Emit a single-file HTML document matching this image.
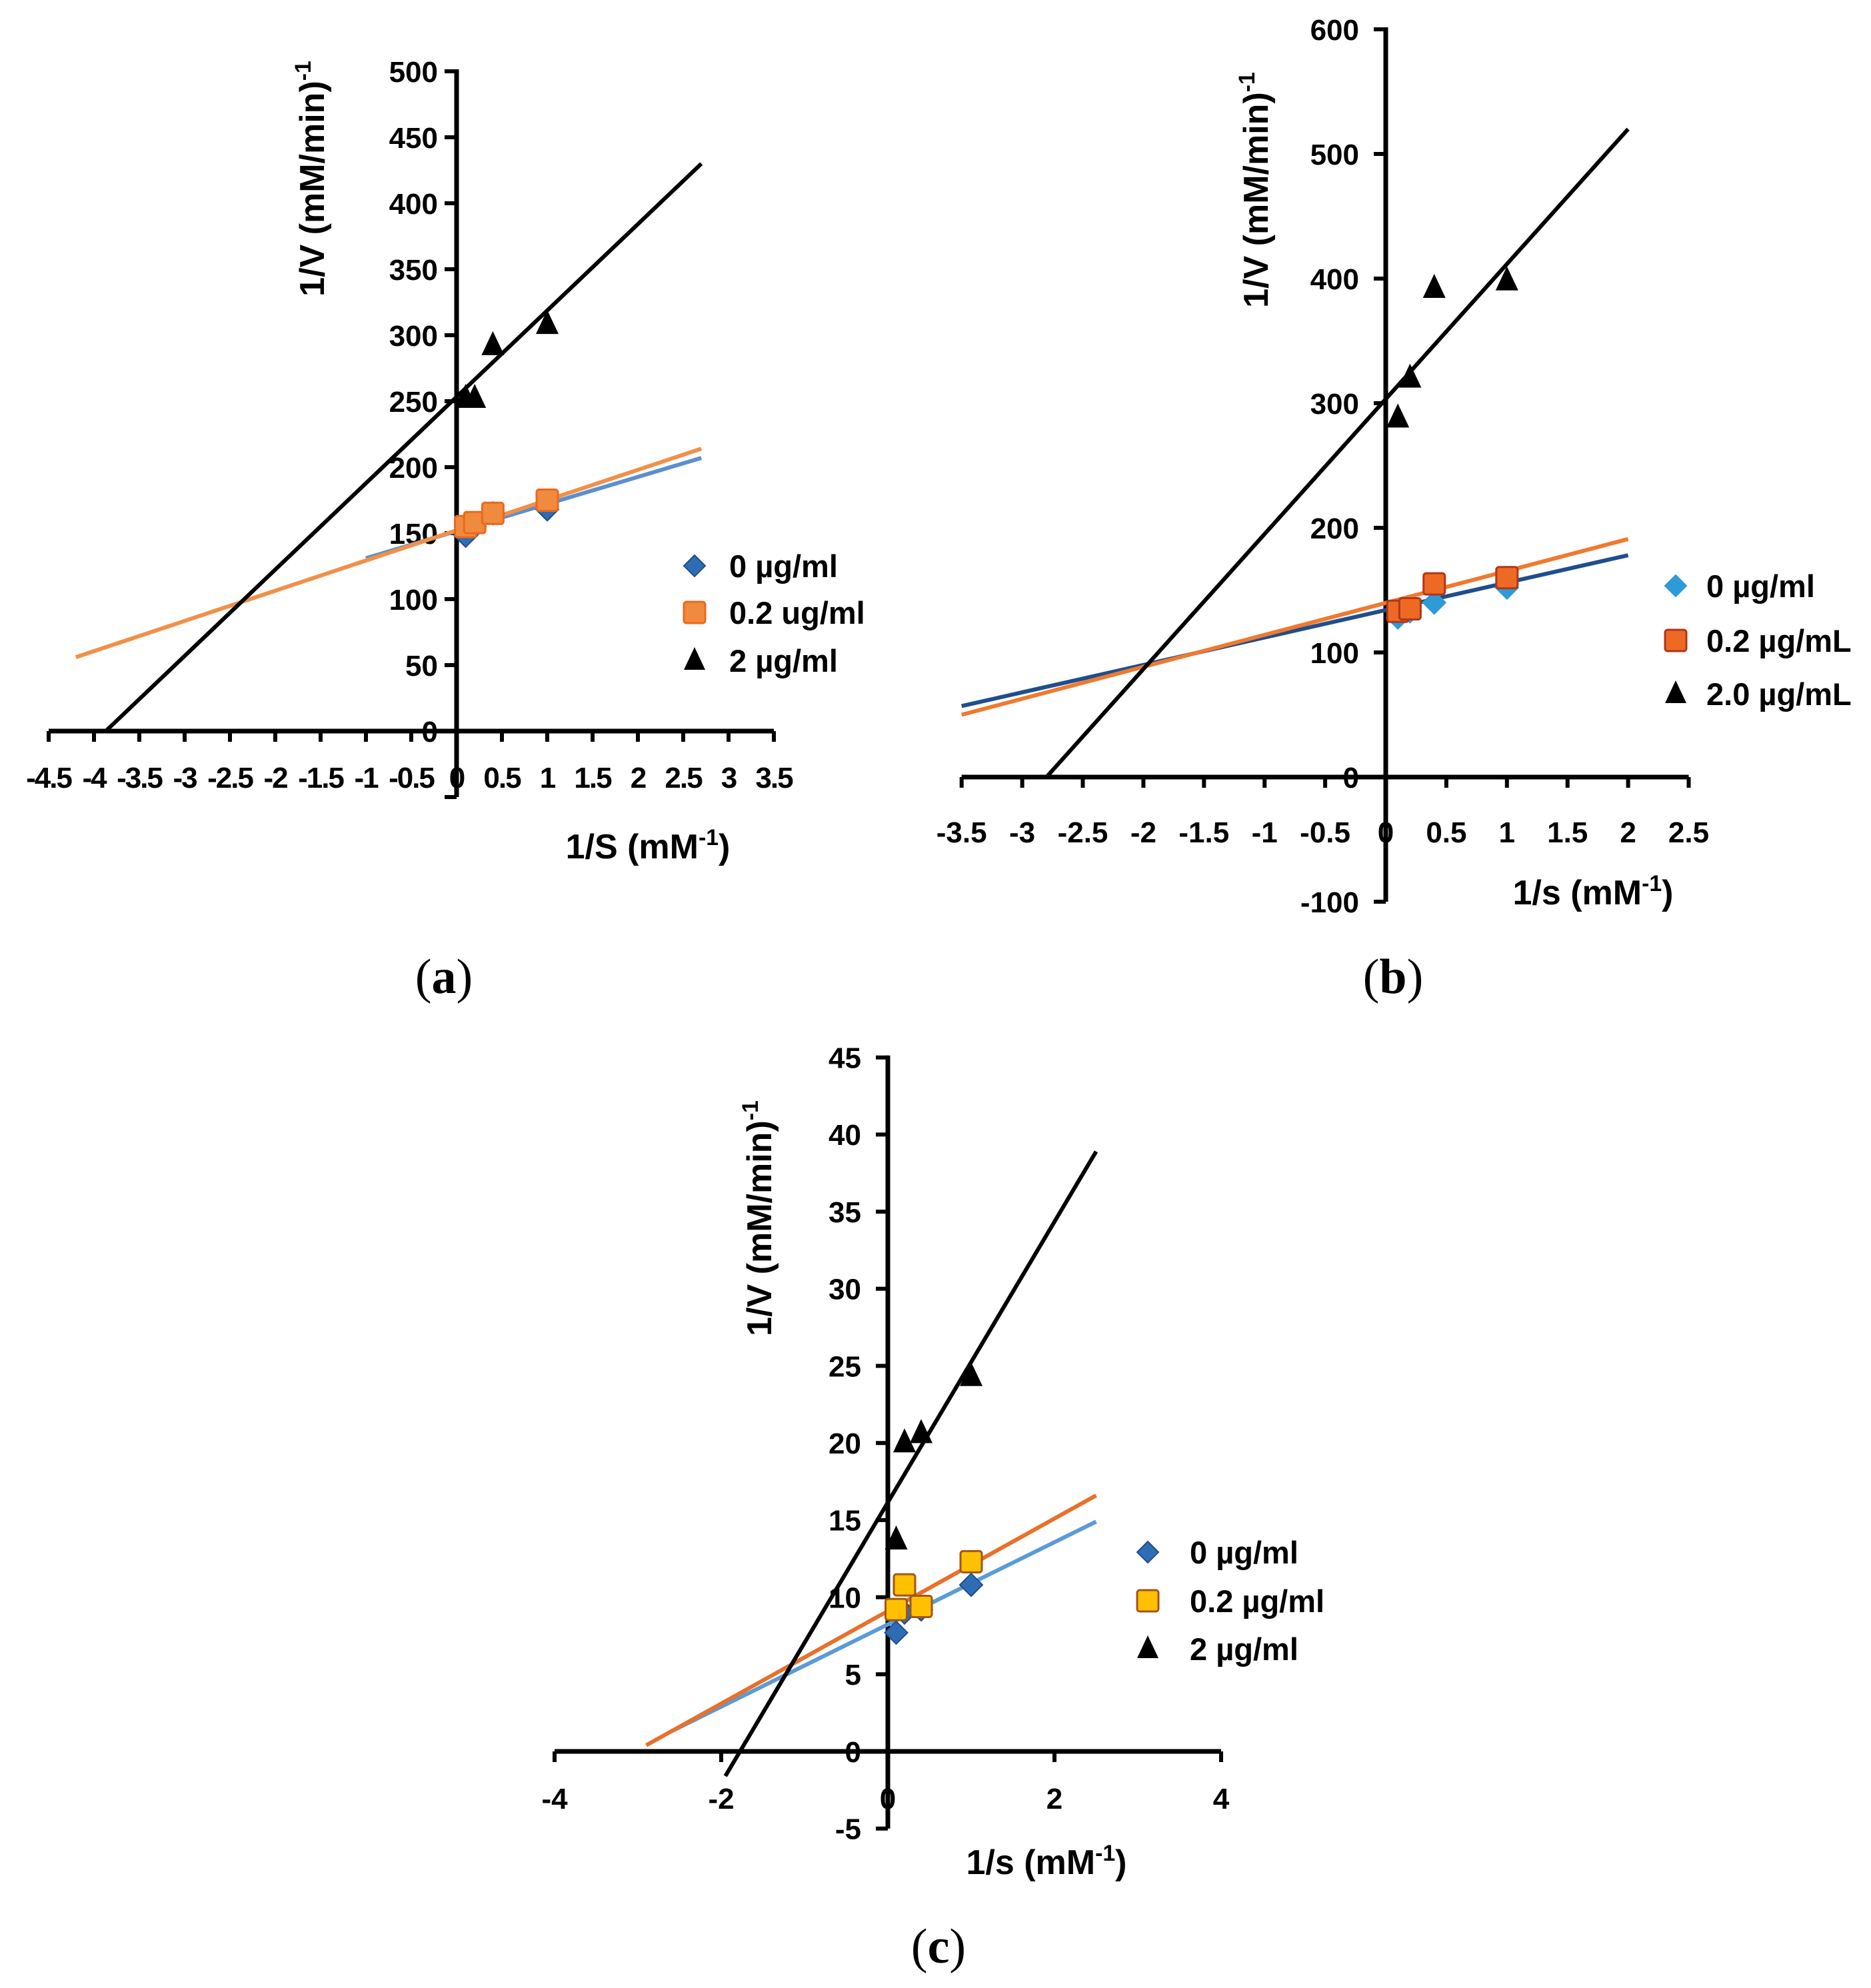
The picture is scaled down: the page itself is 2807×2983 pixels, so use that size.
<!DOCTYPE html>
<html><head><meta charset="utf-8">
<style>
html,body{margin:0;padding:0;background:#fff;}
svg{display:block;}
text{font-family:"Liberation Sans",sans-serif;fill:#000;}
</style></head>
<body>
<svg id="fig" xmlns="http://www.w3.org/2000/svg" width="2807" height="2983" viewBox="0 0 2807 2983"></svg>
<script>
// ===== Panel (a) data =====
const aXTicks = [-4.5,-4,-3.5,-3,-2.5,-2,-1.5,-1,-0.5,0,0.5,1,1.5,2,2.5,3,3.5];
const aYTicks = [0,50,100,150,200,250,300,350,400,450,500];
const aSx = [0.1,0.2,0.4,1];
const aBlue = [148,155,165,168];
const aOrange = [155,158,165,175];
const aBlack = [252,252,292,308];
const aBlueLine = [-1,131,2.7,207];
const aOrangeLine = [-4.2,56,2.7,214];
const aBlackLine = [-3.87,0,2.7,430];
const aLegend = ['0 µg/ml','0.2 ug/ml','2 µg/ml'];
// ===== Panel (b) data =====
const bXTicks = [-3.5,-3,-2.5,-2,-1.5,-1,-0.5,0,0.5,1,1.5,2,2.5];
const bYTicks = [-100,0,100,200,300,400,500,600];
const bSx = [0.1,0.2,0.4,1];
const bBlue = [128,133,140,152];
const bOrange = [133,135,155,160];
const bBlack = [288,320,392,398];
const bBlueLine = [-3.5,57,2,178];
const bOrangeLine = [-3.5,50,2,191];
const bBlackLine = [-2.8,0,2,520];
const bLegend = ['0 µg/ml','0.2 µg/mL','2.0 µg/mL'];
// ===== Panel (c) data =====
const cXTicks = [-4,-2,0,2,4];
const cYTicks = [-5,0,5,10,15,20,25,30,35,40,45];
const cSx = [0.1,0.2,0.4,1];
const cBlue = [7.7,9.0,9.2,10.8];
const cOrange = [9.2,10.8,9.4,12.3];
const cBlack = [13.7,20,20.6,24.3];
const cBlueLine = [-2.6,1.3,2.5,14.9];
const cOrangeLine = [-2.9,0.4,2.5,16.6];
const cBlackLine = [-1.95,-1.6,2.5,38.9];
const cLegend = ['0 µg/ml','0.2 µg/ml','2 µg/ml'];

const NS='http://www.w3.org/2000/svg';
const svg=document.getElementById('fig');
function mk(tag,attrs,parent){const e=document.createElementNS(NS,tag);for(const k in attrs)e.setAttribute(k,attrs[k]);(parent||svg).appendChild(e);return e;}

function panel(cfg){
  const g=mk('g',{});
  
  
  const X=v=>cfg.x0+v*cfg.ux;
  const Y=v=>cfg.y0-v*cfg.uy;
  const tfs=cfg.tfs;
  const xa=mk('line',{x1:X(cfg.xTicks[0]),x2:X(cfg.xTicks[cfg.xTicks.length-1]),y1:cfg.y0,y2:cfg.y0,stroke:'#000','stroke-width':7},g);
  
  
  cfg.xTicks.forEach(t=>{
    const tk=mk('line',{x1:X(t),x2:X(t),y1:cfg.y0,y2:cfg.y0+16,stroke:'#000','stroke-width':6},g);
    
    
    const tl=mk('text',{x:X(t),y:cfg.xLabY,'text-anchor':'middle','font-size':cfg.fs,'font-weight':'bold','letter-spacing':cfg.ls||0},g);
    tl.textContent=String(t);
    
    
  });
  const ya=mk('line',{x1:cfg.x0,x2:cfg.x0,y1:Y(cfg.yTicks[cfg.yTicks.length-1])-3,y2:Y(cfg.yMin),stroke:'#000','stroke-width':7},g);
  
  
  cfg.yTicks.forEach(t=>{
    const tk=mk('line',{x1:cfg.x0-18,x2:cfg.x0,y1:Y(t),y2:Y(t),stroke:'#000','stroke-width':6},g);
    
    
    const tl=mk('text',{x:cfg.x0-cfg.yLabGap,y:Y(t)+cfg.fs*0.36,'text-anchor':'end','font-size':cfg.fs,'font-weight':'bold'},g);
    tl.textContent=String(t);
    
    
  });
  if(cfg.yMin<cfg.yTicks[0]){
    const tk=mk('line',{x1:cfg.x0-18,x2:cfg.x0,y1:Y(cfg.yMin),y2:Y(cfg.yMin),stroke:'#000','stroke-width':6},g);
    
    
  }
  const yt=mk('text',{x:0,y:0,'text-anchor':'middle','font-size':tfs,'font-weight':'bold',transform:`translate(${cfg.ytx},${cfg.yty}) rotate(-90)`},g);
  yt.innerHTML='1/V (mM/min)<tspan dy="-20" font-size="'+(tfs*0.65)+'">-1</tspan>';
  
  
  const xt=mk('text',{x:cfg.xtx,y:cfg.xty,'text-anchor':'middle','font-size':tfs,'font-weight':'bold'},g);
  xt.innerHTML=cfg.xTitle+' (mM<tspan dy="-20" font-size="'+(tfs*0.65)+'">-1</tspan><tspan dy="20">)</tspan>';
  
  
  const lines=[[cfg.blueLine,cfg.blueLineC,'trendline-0'],[cfg.orangeLine,cfg.orangeLineC,'trendline-0-2'],[cfg.blackLine,'#000','trendline-2']];
  lines.forEach(([L,c,n])=>{
    const l=mk('line',{x1:X(L[0]),y1:Y(L[1]),x2:X(L[2]),y2:Y(L[3]),stroke:c,'stroke-width':6},g);
    
    
  });
  cfg.sx.forEach((s,i)=>{
    const x=X(s),y=Y(cfg.blue[i]),r=17;
    const d=mk('polygon',{points:`${x},${y-r} ${x+r},${y} ${x},${y+r} ${x-r},${y}`,fill:cfg.blueC,stroke:cfg.blueS,'stroke-width':2},g);
    
    
  });
  cfg.sx.forEach((s,i)=>{
    const x=X(s),y=Y(cfg.orange[i]),h=16;
    const q=mk('rect',{x:x-h,y:y-h,width:2*h,height:2*h,rx:4,fill:cfg.orangeC,stroke:cfg.orangeS,'stroke-width':3},g);
    
    
  });
  cfg.sx.forEach((s,i)=>{
    const x=X(s),y=Y(cfg.black[i]);
    const t=mk('polygon',{points:`${x},${y-22} ${x+17},${y+14} ${x-17},${y+14}`,fill:'#000'},g);
    
    
  });
  cfg.legend.forEach((lab,i)=>{
    const y=cfg.legY[i],x=cfg.legMx;
    let m;
    if(i===0){m=mk('polygon',{points:`${x},${y-16} ${x+16},${y} ${x},${y+16} ${x-16},${y}`,fill:cfg.blueC,stroke:cfg.blueS,'stroke-width':2},g);}
    else if(i===1){m=mk('rect',{x:x-16,y:y-16,width:32,height:32,rx:4,fill:cfg.orangeC,stroke:cfg.orangeS,'stroke-width':3},g);}
    else{m=mk('polygon',{points:`${x},${y-20} ${x+16},${y+14} ${x-16},${y+14}`,fill:'#000'},g);}
    
    
    const t=mk('text',{x:cfg.legTx,y:y+cfg.legFs*0.36,'font-size':cfg.legFs,'font-weight':'bold'},g);
    t.textContent=lab;
    
    
  });
  const cap=mk('text',{x:cfg.capX,y:cfg.capY,'text-anchor':'middle','font-size':74,style:'font-family:"Liberation Serif",serif'},g);
  cap.innerHTML='(<tspan font-weight="bold">'+cfg.id+'</tspan>)';
  
  
}

panel({id:'a',x0:685,y0:1097,ux:136,uy:1.98,xTicks:aXTicks,yTicks:aYTicks,yMin:-50,fs:44,tfs:52,ls:-2,xLabY:1182,yLabGap:28,
  ytx:486,yty:268,xtx:972,xty:1288,xTitle:'1/S',
  sx:aSx,blue:aBlue,orange:aOrange,black:aBlack,blueLine:aBlueLine,orangeLine:aOrangeLine,blackLine:aBlackLine,
  blueC:'#2E6DB4',blueS:'#1F4E8C',blueLineC:'#5B8FD0',orangeC:'#F08A3E',orangeS:'#E86A1C',orangeLineC:'#F0904A',
  legend:aLegend,legMx:1042,legTx:1094,legY:[849,919,991],legFs:47,capX:666,capY:1490});
panel({id:'b',x0:2079,y0:1166,ux:181.8,uy:1.87,xTicks:bXTicks,yTicks:bYTicks,yMin:-100,fs:44,tfs:52,xLabY:1264,yLabGap:40,
  ytx:1902,yty:285,xtx:2390,xty:1357,xTitle:'1/s',
  sx:bSx,blue:bBlue,orange:bOrange,black:bBlack,blueLine:bBlueLine,orangeLine:bOrangeLine,blackLine:bBlackLine,
  blueC:'#2E9BD6',blueS:'#2E9BD6',blueLineC:'#1F4E8C',orangeC:'#EE6A24',orangeS:'#B0361A',orangeLineC:'#EE7A30',
  legend:bLegend,legMx:2514,legTx:2560,legY:[879,961,1041],legFs:47,capX:2090,capY:1490});
panel({id:'c',x0:1332,y0:2628,ux:125,uy:23.14,xTicks:cXTicks,yTicks:cYTicks,yMin:-5,fs:44,tfs:52,xLabY:2714,yLabGap:40,
  ytx:1157,yty:1828,xtx:1570,xty:2812,xTitle:'1/s',
  sx:cSx,blue:cBlue,orange:cOrange,black:cBlack,blueLine:cBlueLine,orangeLine:cOrangeLine,blackLine:cBlackLine,
  blueC:'#2E6DB4',blueS:'#1F4E8C',blueLineC:'#5B9BD5',orangeC:'#FFC000',orangeS:'#A0561A',orangeLineC:'#E8702A',
  legend:cLegend,legMx:1722,legTx:1785,legY:[2329,2402,2474],legFs:47,capX:1408,capY:2945});
</script>
</body></html>
